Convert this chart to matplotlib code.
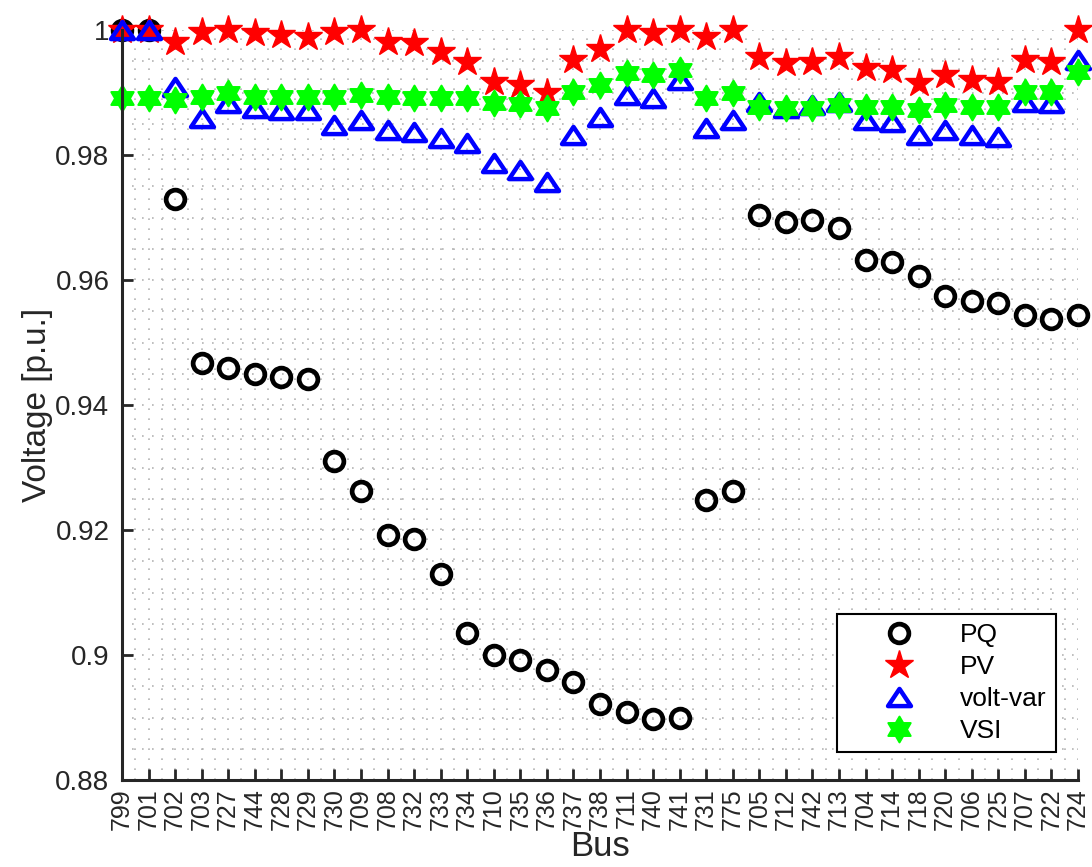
import numpy as np
import matplotlib
matplotlib.use('Agg')
from matplotlib import pyplot as plt
from matplotlib.path import Path
from matplotlib.ticker import MultipleLocator

plt.rcParams['font.family'] = ['Liberation Sans', 'DejaVu Sans']

buses = ['799', '701', '702', '703', '727', '744', '728', '729', '730', '709',
         '708', '732', '733', '734', '710', '735', '736', '737', '738', '711',
         '740', '741', '731', '775', '705', '712', '742', '713', '704', '714',
         '718', '720', '706', '725', '707', '722', '724']

v_pq = [1.0, 1.0, 0.973, 0.9467, 0.946, 0.945, 0.9445, 0.9442, 0.931, 0.9262,
        0.9192, 0.9186, 0.913, 0.9035, 0.900, 0.8992, 0.8976, 0.8957, 0.8922, 0.8909,
        0.8898, 0.8899, 0.9248, 0.9262, 0.9704, 0.9693, 0.9696, 0.9683, 0.9632, 0.9629,
        0.9606, 0.9574, 0.9566, 0.9563, 0.9544, 0.9538, 0.9544]

v_pv = [1.0, 1.0, 0.998, 0.9997, 1.0, 0.9995, 0.9992, 0.9989, 0.9997, 1.0,
        0.998, 0.9979, 0.9965, 0.9949, 0.9917, 0.9912, 0.9899, 0.9952, 0.997, 1.0,
        0.9995, 1.0, 0.9989, 1.0, 0.9957, 0.9947, 0.9949, 0.9957, 0.9939, 0.9936,
        0.9915, 0.9928, 0.992, 0.9917, 0.9952, 0.9949, 1.0]

v_vv = [1.0, 1.0, 0.9909, 0.9859, 0.9883, 0.9875, 0.9872, 0.9872, 0.9848, 0.9856,
        0.984, 0.9837, 0.9827, 0.9819, 0.9787, 0.9776, 0.9757, 0.9832, 0.9861, 0.9896,
        0.9891, 0.992, 0.9843, 0.9856, 0.9885, 0.9875, 0.988, 0.9885, 0.9856, 0.9853,
        0.9832, 0.984, 0.9832, 0.9829, 0.9885, 0.9883, 0.9952]

v_vsi = [0.9891, 0.9891, 0.9888, 0.9893, 0.9899, 0.9893, 0.9893, 0.9893, 0.9893, 0.9896,
         0.9893, 0.9891, 0.9891, 0.9892, 0.9883, 0.9882, 0.9875, 0.9901, 0.9912, 0.9931,
         0.9928, 0.9936, 0.9891, 0.9899, 0.9877, 0.9875, 0.9875, 0.988, 0.9877, 0.9877,
         0.9872, 0.988, 0.9877, 0.9877, 0.9901, 0.9901, 0.9933]

yticks = [0.88, 0.9, 0.92, 0.94, 0.96, 0.98, 1.0]
ylabels = ['0.88', '0.9', '0.92', '0.94', '0.96', '0.98', '1']

x = np.arange(1, len(buses) + 1)

# matlab-ish markers
tri = Path([(0, 0.75), (-1, -0.75), (1, -0.75), (0, 0.75)],
           [Path.MOVETO, Path.LINETO, Path.LINETO, Path.CLOSEPOLY])
hexa = Path.unit_regular_star(6, 1 / np.sqrt(3))

fig = plt.figure(figsize=(10.92, 8.67), dpi=100)
ax = fig.add_axes([0.1117, 0.1003, 0.8755, 0.8651])

dark = '#262626'
ax.plot(x, v_pq, 'o', ls='none', mfc='none', mec='k', ms=13.5, mew=3.4,
        label='PQ', clip_on=False)
ax.plot(x, v_pv, '*', ls='none', mfc='r', mec='r', ms=21, mew=1,
        label='PV', clip_on=False)
ax.plot(x, v_vv, marker=tri, ls='none', mfc='none', mec='b', ms=16.5, mew=3.2,
        label='volt-var', clip_on=False)
ax.plot(x, v_vsi, marker=hexa, ls='none', mfc='#00ff00', mec='#00ff00', ms=18.5, mew=1.5,
        label='VSI', clip_on=False)

ax.set_xlim(1, len(buses))
ax.set_ylim(0.88, 1.0)
ax.set_xticks(x)
ax.set_xticklabels(buses, rotation=90, fontsize=18, color=dark)
ax.set_yticks(yticks)
ax.set_yticklabels(ylabels, fontsize=20, color=dark)
ax.xaxis.set_minor_locator(MultipleLocator(0.5))
ax.yaxis.set_minor_locator(MultipleLocator(0.005))

ax.tick_params(which='major', direction='in', length=8, width=2, color=dark, pad=9)
ax.tick_params(which='minor', length=0)
ax.tick_params(axis='x', pad=6)

ax.grid(True, which='both', ls=(0, (1, 5)), color='#b4b4b4', lw=1.2)
ax.set_axisbelow(True)

for s in ['top', 'right']:
    ax.spines[s].set_visible(False)
for s in ['left', 'bottom']:
    ax.spines[s].set_linewidth(2.2)
    ax.spines[s].set_color(dark)

ax.set_xlabel('Bus', fontsize=25, color=dark, labelpad=0)
ax.set_ylabel('Voltage [p.u.]', fontsize=24, color=dark, labelpad=2)

leg = ax.legend(loc='lower right', bbox_to_anchor=(0.977, 0.037), borderaxespad=0,
                fontsize=19, fancybox=False, framealpha=1, edgecolor='k',
                handlelength=4.0, handletextpad=0.3, labelspacing=0.3, borderpad=0.35)
leg.get_frame().set_linewidth(1.5)

fig.savefig('out.png', dpi=100)
